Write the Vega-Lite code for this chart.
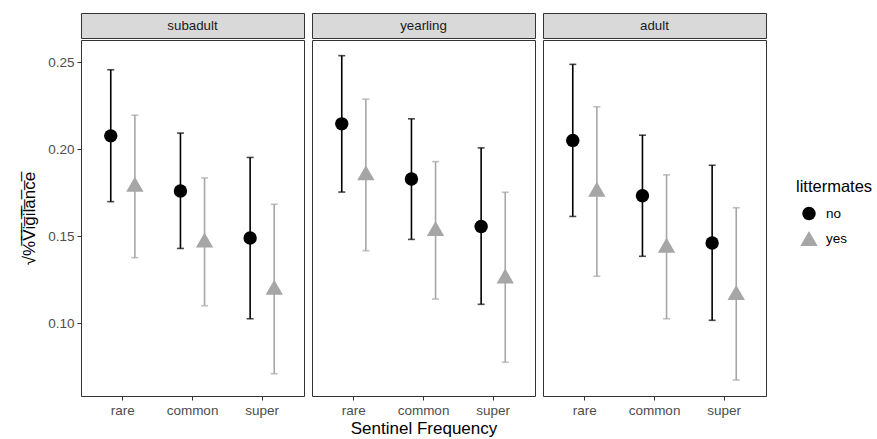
{
  "$schema": "https://vega.github.io/schema/vega-lite/v6.json",
  "padding": {"left": 20, "top": 12, "right": 5, "bottom": 5},
  "background": "white",
  "datasets": {
    "d": [
      {"age": "subadult", "freq": "rare", "lit": "no", "mean": 0.2076, "lo": 0.1698, "hi": 0.2456},
      {"age": "subadult", "freq": "rare", "lit": "yes", "mean": 0.1798, "lo": 0.1376, "hi": 0.2195},
      {"age": "subadult", "freq": "common", "lit": "no", "mean": 0.1759, "lo": 0.1429, "hi": 0.2092},
      {"age": "subadult", "freq": "common", "lit": "yes", "mean": 0.1477, "lo": 0.1100, "hi": 0.1834},
      {"age": "subadult", "freq": "super", "lit": "no", "mean": 0.1489, "lo": 0.1025, "hi": 0.1952},
      {"age": "subadult", "freq": "super", "lit": "yes", "mean": 0.1206, "lo": 0.0709, "hi": 0.1683},
      {"age": "yearling", "freq": "rare", "lit": "no", "mean": 0.2145, "lo": 0.1753, "hi": 0.2537},
      {"age": "yearling", "freq": "rare", "lit": "yes", "mean": 0.1864, "lo": 0.1416, "hi": 0.2287},
      {"age": "yearling", "freq": "common", "lit": "no", "mean": 0.1828, "lo": 0.1481, "hi": 0.2174},
      {"age": "yearling", "freq": "common", "lit": "yes", "mean": 0.1544, "lo": 0.1138, "hi": 0.1928},
      {"age": "yearling", "freq": "super", "lit": "no", "mean": 0.1555, "lo": 0.1108, "hi": 0.2007},
      {"age": "yearling", "freq": "super", "lit": "yes", "mean": 0.1271, "lo": 0.0775, "hi": 0.1752},
      {"age": "adult", "freq": "rare", "lit": "no", "mean": 0.2050, "lo": 0.1613, "hi": 0.2487},
      {"age": "adult", "freq": "rare", "lit": "yes", "mean": 0.1769, "lo": 0.1269, "hi": 0.2243},
      {"age": "adult", "freq": "common", "lit": "no", "mean": 0.1732, "lo": 0.1384, "hi": 0.2080},
      {"age": "adult", "freq": "common", "lit": "yes", "mean": 0.1448, "lo": 0.1025, "hi": 0.1852},
      {"age": "adult", "freq": "super", "lit": "no", "mean": 0.1460, "lo": 0.1016, "hi": 0.1907},
      {"age": "adult", "freq": "super", "lit": "yes", "mean": 0.1176, "lo": 0.0673, "hi": 0.1663}
    ]
  },
  "data": {"name": "d"},
  "config": {
    "font": "Liberation Sans",
    "view": {"stroke": "#333333", "strokeWidth": 1},
    "axis": {"grid": false, "domain": false, "tickColor": "#333333", "tickSize": 4, "labelColor": "#4D4D4D", "labelFontSize": 13.5, "labelFont": "Liberation Sans", "titleFont": "Liberation Sans", "titleFontSize": 17, "titleFontWeight": "normal", "titleColor": "#000000", "labelPadding": 3},
    "axisY": {"titlePadding": 9},
    "axisX": {"titlePadding": 4},
    "legend": {"orient": "none", "legendX": 715, "legendY": 166, "titleFontSize": 16.5, "titleFontWeight": "normal", "titleColor": "#000000", "labelFontSize": 13.5, "labelColor": "#000000", "rowPadding": 9, "titleFont": "Liberation Sans", "labelFont": "Liberation Sans", "titlePadding": 11, "symbolOpacity": 1, "symbolStrokeWidth": 0, "symbolOffset": 4, "labelOffset": 8}
  },
  "spacing": 6,
  "hconcat": [
    {
      "spacing": 0,
      "vconcat": [
        {
          "width": 223, "height": 25,
          "view": {"fill": "#D9D9D9", "stroke": "#333333"},
          "transform": [{"filter": "datum.age === 'subadult'"}, {"aggregate": [{"op": "count", "as": "n"}], "groupby": ["age"]}],
          "mark": {"type": "text", "fontSize": 13.3, "color": "#1A1A1A", "font": "Liberation Sans"},
          "encoding": {"text": {"field": "age"}}
        },
        {
          "width": 223, "height": 356,
          "transform": [{"filter": "datum.age === 'subadult'"}],
          "encoding": {
            "x": {"field": "freq", "type": "nominal", "sort": ["rare", "common", "super"], "scale": {"paddingInner": 0, "paddingOuter": 0.1}, "axis": {"labelAngle": 0}, "title": null},
            "xOffset": {"field": "lit", "type": "nominal", "scale": {"paddingInner": 0, "paddingOuter": 0.446}},
            "color": {"field": "lit", "type": "nominal", "scale": {"domain": ["no", "yes"], "range": ["#000000", "#A6A6A6"]}, "title": "littermates"}
          },
          "layer": [
            {"mark": {"type": "rule", "strokeWidth": 1.6}, "encoding": {"y": {"field": "lo", "type": "quantitative", "scale": {"domain": [0.0581, 0.2627], "nice": false, "zero": false}, "axis": {"values": [0.1, 0.15, 0.2, 0.25], "format": ".2f"}, "title": "√%̅V̅i̅g̅i̅l̅a̅n̅c̅e̅"}, "y2": {"field": "hi"}}},
            {"mark": {"type": "tick", "size": 7, "thickness": 1.6}, "encoding": {"y": {"field": "hi", "type": "quantitative", "axis": {"values": [0.1, 0.15, 0.2, 0.25], "format": ".2f"}, "title": "√%̅V̅i̅g̅i̅l̅a̅n̅c̅e̅"}}},
            {"mark": {"type": "tick", "size": 7, "thickness": 1.6}, "encoding": {"y": {"field": "lo", "type": "quantitative", "axis": {"values": [0.1, 0.15, 0.2, 0.25], "format": ".2f"}, "title": "√%̅V̅i̅g̅i̅l̅a̅n̅c̅e̅"}}},
            {"mark": {"type": "point", "filled": true, "opacity": 1}, "encoding": {
              "y": {"field": "mean", "type": "quantitative", "axis": {"values": [0.1, 0.15, 0.2, 0.25], "format": ".2f"}, "title": "√%̅V̅i̅g̅i̅l̅a̅n̅c̅e̅"},
              "shape": {"field": "lit", "type": "nominal", "scale": {"domain": ["no", "yes"], "range": ["circle", "triangle-up"]}, "title": "littermates"},
              "size": {"field": "lit", "type": "nominal", "scale": {"domain": ["no", "yes"], "range": [180, 300]}, "title": "littermates"}
            }}
          ]
        }
      ]
    },
    {
      "spacing": 0,
      "vconcat": [
        {
          "width": 223, "height": 25,
          "view": {"fill": "#D9D9D9", "stroke": "#333333"},
          "transform": [{"filter": "datum.age === 'yearling'"}, {"aggregate": [{"op": "count", "as": "n"}], "groupby": ["age"]}],
          "mark": {"type": "text", "fontSize": 13.3, "color": "#1A1A1A", "font": "Liberation Sans"},
          "encoding": {"text": {"field": "age"}}
        },
        {
          "width": 223, "height": 356,
          "transform": [{"filter": "datum.age === 'yearling'"}],
          "encoding": {
            "x": {"field": "freq", "type": "nominal", "sort": ["rare", "common", "super"], "scale": {"paddingInner": 0, "paddingOuter": 0.1}, "axis": {"labelAngle": 0}, "title": "Sentinel Frequency"},
            "xOffset": {"field": "lit", "type": "nominal", "scale": {"paddingInner": 0, "paddingOuter": 0.446}},
            "color": {"field": "lit", "type": "nominal", "scale": {"domain": ["no", "yes"], "range": ["#000000", "#A6A6A6"]}, "title": "littermates"}
          },
          "layer": [
            {"mark": {"type": "rule", "strokeWidth": 1.6}, "encoding": {"y": {"field": "lo", "type": "quantitative", "scale": {"domain": [0.0581, 0.2627], "nice": false, "zero": false}, "axis": null}, "y2": {"field": "hi"}}},
            {"mark": {"type": "tick", "size": 7, "thickness": 1.6}, "encoding": {"y": {"field": "hi", "type": "quantitative", "axis": null}}},
            {"mark": {"type": "tick", "size": 7, "thickness": 1.6}, "encoding": {"y": {"field": "lo", "type": "quantitative", "axis": null}}},
            {"mark": {"type": "point", "filled": true, "opacity": 1}, "encoding": {
              "y": {"field": "mean", "type": "quantitative", "axis": null},
              "shape": {"field": "lit", "type": "nominal", "scale": {"domain": ["no", "yes"], "range": ["circle", "triangle-up"]}, "title": "littermates"},
              "size": {"field": "lit", "type": "nominal", "scale": {"domain": ["no", "yes"], "range": [180, 300]}, "title": "littermates"}
            }}
          ]
        }
      ]
    },
    {
      "spacing": 0,
      "vconcat": [
        {
          "width": 223, "height": 25,
          "view": {"fill": "#D9D9D9", "stroke": "#333333"},
          "transform": [{"filter": "datum.age === 'adult'"}, {"aggregate": [{"op": "count", "as": "n"}], "groupby": ["age"]}],
          "mark": {"type": "text", "fontSize": 13.3, "color": "#1A1A1A", "font": "Liberation Sans"},
          "encoding": {"text": {"field": "age"}}
        },
        {
          "width": 223, "height": 356,
          "transform": [{"filter": "datum.age === 'adult'"}],
          "encoding": {
            "x": {"field": "freq", "type": "nominal", "sort": ["rare", "common", "super"], "scale": {"paddingInner": 0, "paddingOuter": 0.1}, "axis": {"labelAngle": 0}, "title": null},
            "xOffset": {"field": "lit", "type": "nominal", "scale": {"paddingInner": 0, "paddingOuter": 0.446}},
            "color": {"field": "lit", "type": "nominal", "scale": {"domain": ["no", "yes"], "range": ["#000000", "#A6A6A6"]}, "title": "littermates"}
          },
          "layer": [
            {"mark": {"type": "rule", "strokeWidth": 1.6}, "encoding": {"y": {"field": "lo", "type": "quantitative", "scale": {"domain": [0.0581, 0.2627], "nice": false, "zero": false}, "axis": null}, "y2": {"field": "hi"}}},
            {"mark": {"type": "tick", "size": 7, "thickness": 1.6}, "encoding": {"y": {"field": "hi", "type": "quantitative", "axis": null}}},
            {"mark": {"type": "tick", "size": 7, "thickness": 1.6}, "encoding": {"y": {"field": "lo", "type": "quantitative", "axis": null}}},
            {"mark": {"type": "point", "filled": true, "opacity": 1}, "encoding": {
              "y": {"field": "mean", "type": "quantitative", "axis": null},
              "shape": {"field": "lit", "type": "nominal", "scale": {"domain": ["no", "yes"], "range": ["circle", "triangle-up"]}, "title": "littermates"},
              "size": {"field": "lit", "type": "nominal", "scale": {"domain": ["no", "yes"], "range": [180, 300]}, "title": "littermates"}
            }}
          ]
        }
      ]
    }
  ]
}
